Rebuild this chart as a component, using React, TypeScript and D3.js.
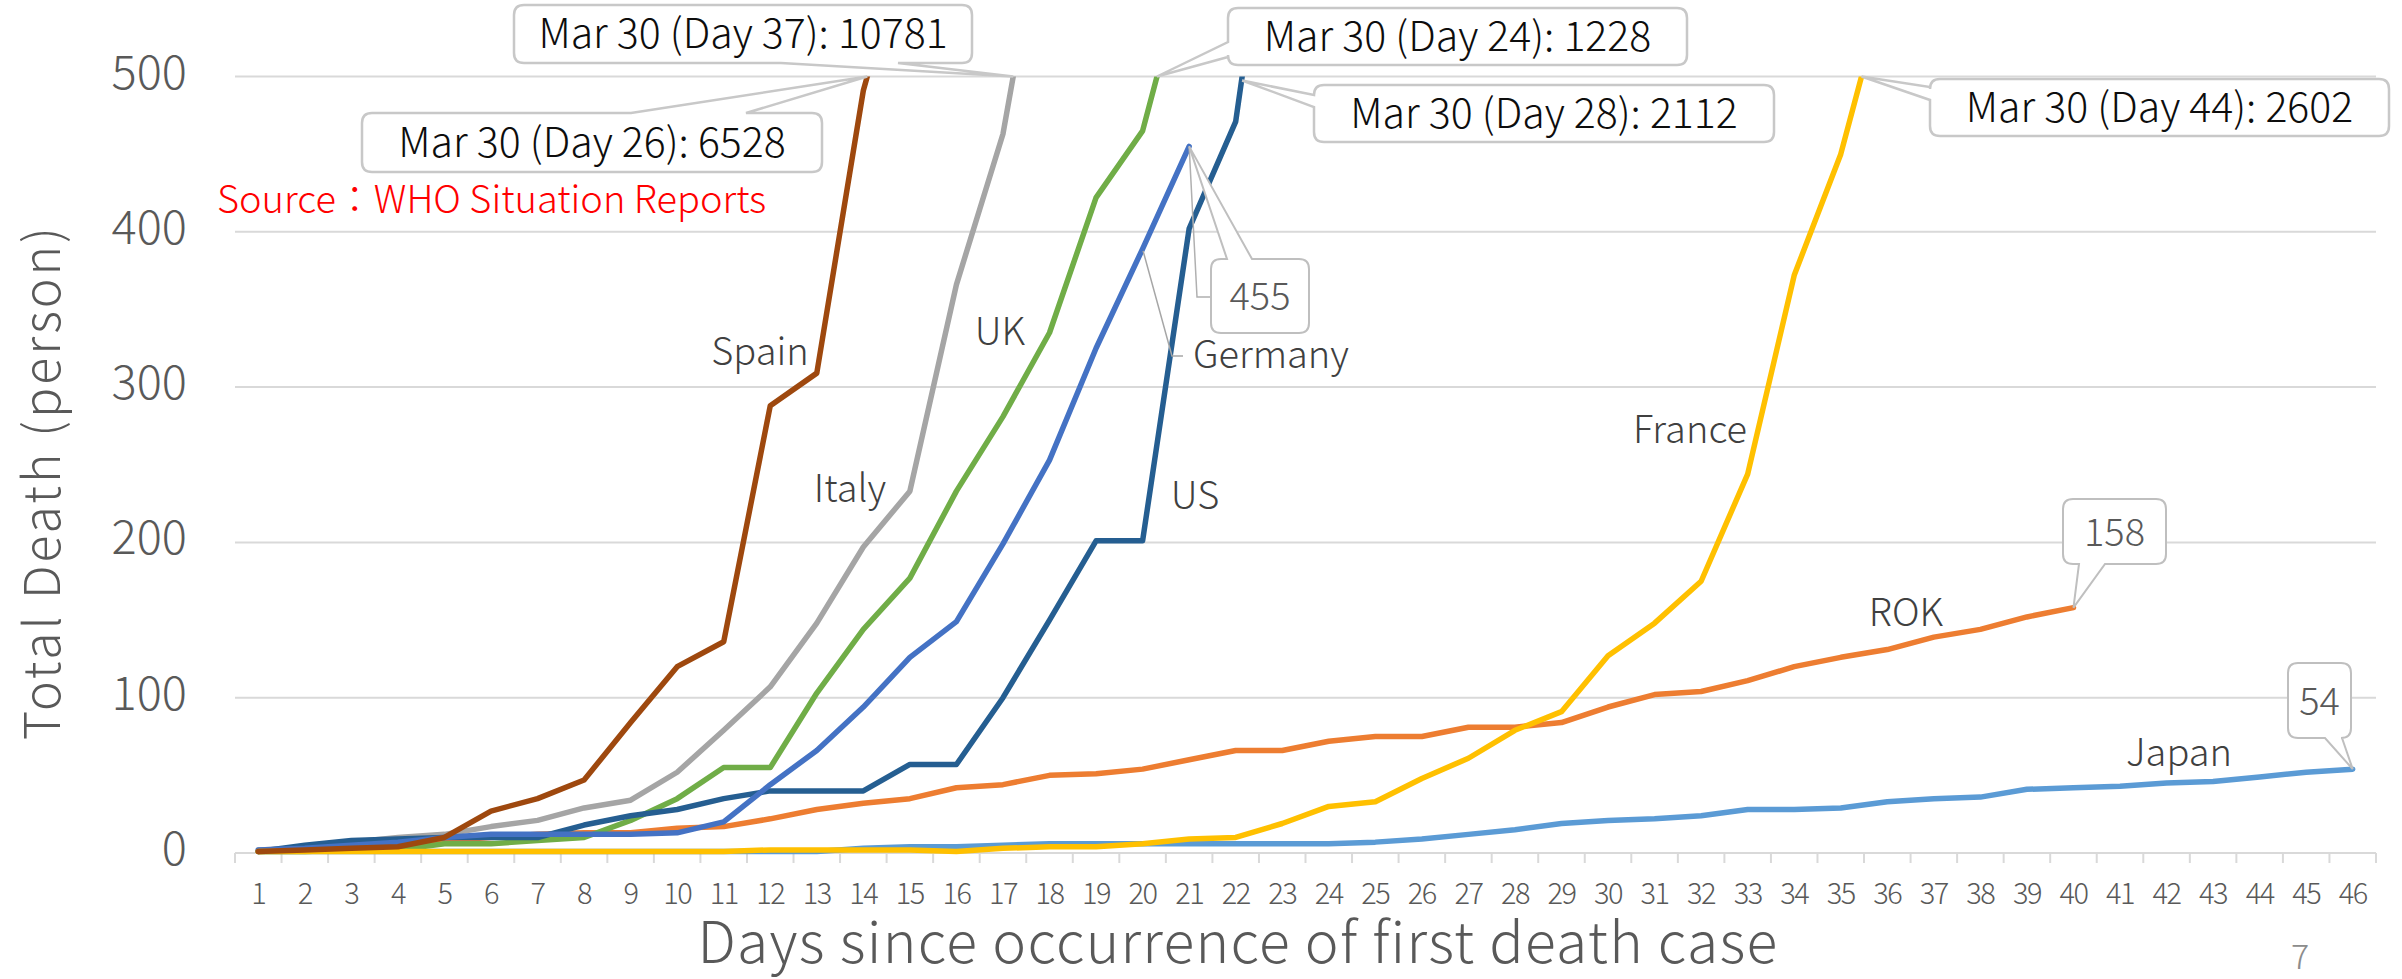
import React from 'react';
import * as d3 from 'd3';

// categories: days since first death
const days = [
  '1', '2', '3', '4', '5', '6', '7', '8', '9', '10', '11', '12', '13', '14', '15', '16',
  '17', '18', '19', '20', '21', '22', '23', '24', '25', '26', '27', '28', '29', '30', '31',
  '32', '33', '34', '35', '36', '37', '38', '39', '40', '41', '42', '43', '44', '45', '46',
];
const yTicks = [0, 100, 200, 300, 400, 500];

// cumulative deaths per day (values above 500 run off the top of the plot)
const japan = [
  1, 1, 1, 1, 1, 1, 1, 1, 1, 1, 1, 1, 1, 3, 4, 4, 5, 6, 6, 6, 6, 6, 6, 6, 7, 9, 12, 15,
  19, 21, 22, 24, 28, 28, 29, 33, 35, 36, 41, 42, 43, 45, 46, 49, 52, 54,
];
const rok = [
  1, 2, 2, 6, 8, 10, 12, 13, 13, 16, 17, 22, 28, 32, 35, 42, 44, 50, 51, 54, 60, 66, 66,
  72, 75, 75, 81, 81, 84, 94, 102, 104, 111, 120, 126, 131, 139, 144, 152, 158,
];
const italy = [2, 3, 7, 10, 12, 17, 21, 29, 34, 52, 79, 107, 148, 197, 233, 366, 463, 631];
const uk = [1, 1, 2, 2, 6, 6, 8, 10, 21, 35, 55, 55, 103, 144, 177, 233, 281, 335, 422, 465, 578];
const us = [1, 5, 8, 9, 10, 10, 10, 18, 24, 28, 35, 40, 40, 40, 57, 57, 100, 150, 201, 201, 402, 471, 680];
const germany = [2, 3, 5, 7, 10, 12, 12, 12, 12, 13, 20, 44, 66, 94, 126, 149, 199, 253, 325, 389, 455];
const france = [
  1, 1, 1, 1, 1, 1, 1, 1, 1, 1, 1, 2, 2, 2, 2, 1, 3, 4, 4, 6, 9, 10, 19, 30, 33, 48, 61,
  79, 91, 127, 148, 175, 244, 372, 450, 562,
];
const spain = [1, 2, 3, 4, 10, 27, 35, 47, 84, 120, 136, 288, 309, 491, 598];

const series = [
  { name: 'Japan', values: japan, color: '#5B9BD5' },
  { name: 'ROK', values: rok, color: '#ED7D31' },
  { name: 'Italy', values: italy, color: '#A5A5A5' },
  { name: 'UK', values: uk, color: '#70AD47' },
  { name: 'US', values: us, color: '#255E91' },
  { name: 'Germany', values: germany, color: '#4472C4' },
  { name: 'France', values: france, color: '#FFC000' },
  { name: 'Spain', values: spain, color: '#9E480E' },
];

const FONT = '"Noto Sans CJK JP", "Noto Sans", sans-serif';
const GRID = '#D9D9D9';
const TEXT = '#595959';

// rounded box with a pointer wedge on one edge
function calloutPath(
  x0: number, y0: number, x1: number, y1: number, r: number,
  side: string, a: number, b: number, px: number, py: number,
) {
  let p = `M${x0 + r},${y0}`;
  if (side === 'top') p += `L${a},${y0}L${px},${py}L${b},${y0}`;
  p += `L${x1 - r},${y0}Q${x1},${y0} ${x1},${y0 + r}`;
  p += `L${x1},${y1 - r}Q${x1},${y1} ${x1 - r},${y1}`;
  if (side === 'bottom') p += `L${b},${y1}L${px},${py}L${a},${y1}`;
  p += `L${x0 + r},${y1}Q${x0},${y1} ${x0},${y1 - r}`;
  if (side === 'left') p += `L${x0},${b}L${px},${py}L${x0},${a}`;
  p += `L${x0},${y0 + r}Q${x0},${y0} ${x0 + r},${y0}Z`;
  return p;
}

export default function App() {
  const left = 235;
  const right = 2376;
  const x = d3.scaleBand<string>().domain(days).range([left, right]);
  const y = d3.scaleLinear().domain([0, 500]).range([853, 76.5]);
  const cx = (i: number) => (x(days[i]) as number) + x.bandwidth() / 2;
  const line = d3
    .line<number>()
    .x((_, i) => cx(i))
    .y((v) => y(v));

  // where a series leaves the top of the plot
  const cross = (vals: number[]) => {
    const i = vals.findIndex((v) => v > 500);
    const t = (500 - vals[i - 1]) / (vals[i] - vals[i - 1]);
    return cx(i - 1) + t * (cx(i) - cx(i - 1));
  };
  const top = y(500);

  const boxes = [
    { text: 'Mar 30 (Day 37): 10781', box: [514, 5, 972, 63], side: 'bottom', a: 781, b: 898, px: cross(italy), py: top },
    { text: 'Mar 30 (Day 26): 6528', box: [362, 113, 822, 172], side: 'top', a: 631, b: 746, px: cross(spain), py: top },
    { text: 'Mar 30 (Day 24): 1228', box: [1228, 8, 1687, 65], side: 'left', a: 42, b: 57, px: cross(uk), py: top },
    { text: 'Mar 30 (Day 28): 2112', box: [1314, 85, 1774, 142], side: 'left', a: 95, b: 107, px: cross(us), py: top + 4 },
    { text: 'Mar 30 (Day 44): 2602', box: [1930, 79, 2389, 136], side: 'left', a: 87, b: 100, px: cross(france), py: top },
  ];

  const gi = germany.length - 1;
  const ri = rok.length - 1;
  const ji = japan.length - 1;
  const valueBoxes = [
    { text: String(rok[ri]), box: [2063, 499, 2166, 564], side: 'bottom', a: 2079, b: 2105, px: cx(ri), py: y(rok[ri]) },
    { text: String(japan[ji]), box: [2288, 663, 2351, 738], side: 'bottom', a: 2325, b: 2342, px: cx(ji), py: y(japan[ji]) },
    { text: String(germany[gi]), box: [1211, 259, 1309, 333], side: 'top', a: 1227, b: 1252, px: cx(gi), py: y(germany[gi]) },
  ];

  const labels = [
    { name: 'Spain', x: 760, y: 365 },
    { name: 'Italy', x: 850, y: 502 },
    { name: 'UK', x: 1000, y: 345 },
    { name: 'US', x: 1195, y: 509 },
    { name: 'France', x: 1690, y: 443 },
    { name: 'ROK', x: 1906, y: 626 },
    { name: 'Japan', x: 2179, y: 766 },
  ];

  return (
    <svg
      width={2402}
      height={979}
      style={{ position: 'absolute', left: 0, top: 0, background: '#fff' }}
      fontFamily={FONT}
      fontWeight={300}
    >
      <defs>
        <clipPath id="plot">
          <rect x={left} y={top} width={right - left} height={900 - top} />
        </clipPath>
      </defs>

      {/* gridlines */}
      {yTicks.map((t) => (
        <line key={t} x1={left} x2={right} y1={y(t)} y2={y(t)} stroke={GRID} strokeWidth={2} />
      ))}
      {/* category tick marks */}
      {days.concat(['end']).map((d, i) => {
        const xx = left + i * x.bandwidth();
        return <line key={d} x1={xx} x2={xx} y1={y(0)} y2={y(0) + 10} stroke={GRID} strokeWidth={2} />;
      })}

      {/* y tick labels */}
      {yTicks.map((t) => (
        <text key={t} x={187} y={y(t) + 12} textAnchor="end" fontSize={47} fill={TEXT}>
          {t}
        </text>
      ))}
      {/* x tick labels */}
      {days.map((d, i) => (
        <text key={d} x={cx(i)} y={904} textAnchor="middle" fontSize={29} letterSpacing={-1.5} fill={TEXT}>
          {d}
        </text>
      ))}

      {/* axis titles */}
      <text x={1238} y={963} textAnchor="middle" fontSize={57} letterSpacing={1.3} fill={TEXT}>
        Days since occurrence of first death case
      </text>
      <text
        transform="translate(60,482) rotate(-90)"
        textAnchor="middle"
        fontSize={50}
        fill={TEXT}
        letterSpacing={3}
      >
        Total Death (person)
      </text>

      {/* series */}
      <g clipPath="url(#plot)">
        {series.map((s) => (
          <path
            key={s.name}
            d={line(s.values) || ''}
            fill="none"
            stroke={s.color}
            strokeWidth={5.5}
            strokeLinejoin="round"
            strokeLinecap="round"
          />
        ))}
      </g>

      {/* series labels */}
      {labels.map((l) => (
        <text key={l.name} x={l.x} y={l.y} textAnchor="middle" fontSize={38} fill="#404040">
          {l.name}
        </text>
      ))}
      <polyline
        points={`${cx(19) + 0.5},${y(germany[19]) + 2} 1172,356 1183,356`}
        fill="none"
        stroke="#A6A6A6"
        strokeWidth={1.5}
      />
      <text x={1193} y={368} fontSize={38} fill="#404040">
        Germany
      </text>

      {/* Mar 30 callouts */}
      {boxes.map((b) => {
        const [x0, y0, x1, y1] = b.box;
        return (
          <g key={b.text}>
            <path
              d={calloutPath(x0, y0, x1, y1, 10, b.side, b.a, b.b, b.px, b.py)}
              fill="#fff"
              stroke="#C8C8C8"
              strokeWidth={2.5}
            />
            <text x={(x0 + x1) / 2} y={(y0 + y1) / 2 + 14} textAnchor="middle" fontSize={41} fill="#0D0D0D">
              {b.text}
            </text>
          </g>
        );
      })}

      {/* end value callouts */}
      <polyline
        points={`${cx(gi)},${y(germany[gi])} 1197,297 1211,297`}
        fill="none"
        stroke="#B0B0B0"
        strokeWidth={1.5}
      />
      {valueBoxes.map((b) => {
        const [x0, y0, x1, y1] = b.box;
        return (
          <g key={b.text}>
            <path
              d={calloutPath(x0, y0, x1, y1, 10, b.side, b.a, b.b, b.px, b.py)}
              fill="#fff"
              stroke="#BFBFBF"
              strokeWidth={2}
            />
            <text x={(x0 + x1) / 2} y={(y0 + y1) / 2 + 14} textAnchor="middle" fontSize={38} fill={TEXT}>
              {b.text}
            </text>
          </g>
        );
      })}

      <text x={217} y={213} fontSize={38} fill="#FF0000">
        Source：WHO Situation Reports
      </text>
      <text x={2300} y={969} textAnchor="middle" fontSize={34} fill="#8C8C8C">
        7
      </text>
    </svg>
  );
}
